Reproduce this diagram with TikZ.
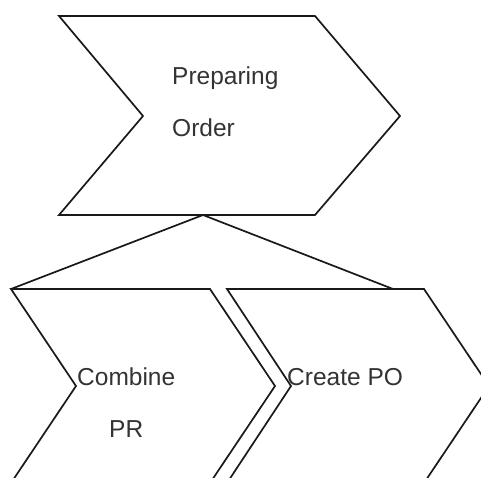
\documentclass[tikz,border=0pt]{standalone}
\usepackage{fontspec}
\setmainfont{Liberation Sans}
\usetikzlibrary{positioning}

\tikzset{
	chev/.style={draw=black!90, line width=1.7pt, line join=miter},
	lbl/.style={inner sep=0pt, text=black!80, font=\fontsize{24.5}{29}\selectfont},
}

\begin{document}
\begin{tikzpicture}[x=1pt, y=-1pt]
	\useasboundingbox (0,0) rectangle (481,478);
	\clip (0,0) rectangle (481,478);

	% Preparing Order
	\coordinate (t1) at (59,16);
	\coordinate (t2) at (315,16);
	\coordinate (t3) at (400,116);
	\coordinate (t4) at (315,215);
	\coordinate (t5) at (59,215);
	\coordinate (t6) at (143,116);
	\coordinate (apex) at (203,215);

	% Combine PR
	\coordinate (l1) at (11,289);
	\coordinate (l2) at (210,289);
	\coordinate (l3) at (275,386);
	\coordinate (l4) at (210,483);
	\coordinate (l5) at (11,483);
	\coordinate (l6) at (76,386);

	% Create PO
	\coordinate (r1) at (227,289);
	\coordinate (r2) at (424,289);
	\coordinate (r3) at (489,386);
	\coordinate (r4) at (424,483);
	\coordinate (r5) at (227,483);
	\coordinate (r6) at (291,386);
	\coordinate (rtop) at (393,289);

	\node [lbl, anchor=base west] (prep) at (172,85) {Preparing};
	\node [lbl, below=52pt of prep.base west, anchor=base west] (order) {Order};
	\node [lbl, anchor=base west] (combine) at (77,385) {Combine};
	\node [lbl, below=52pt of combine.base, anchor=base] (pr) {PR};
	\node [lbl, anchor=base west] (createpo) at (287,385) {Create PO};

	\draw [chev] (t1) -- (t2) -- (t3) -- (t4) -- (t5) -- (t6) -- cycle;
	\draw [chev] (l1) -- (l2) -- (l3) -- (l4) -- (l5) -- (l6) -- cycle;
	\draw [chev] (r1) -- (r2) -- (r3) -- (r4) -- (r5) -- (r6) -- cycle;
	\draw [chev] (l1) -- (apex) -- (rtop);

\end{tikzpicture}
\end{document}
